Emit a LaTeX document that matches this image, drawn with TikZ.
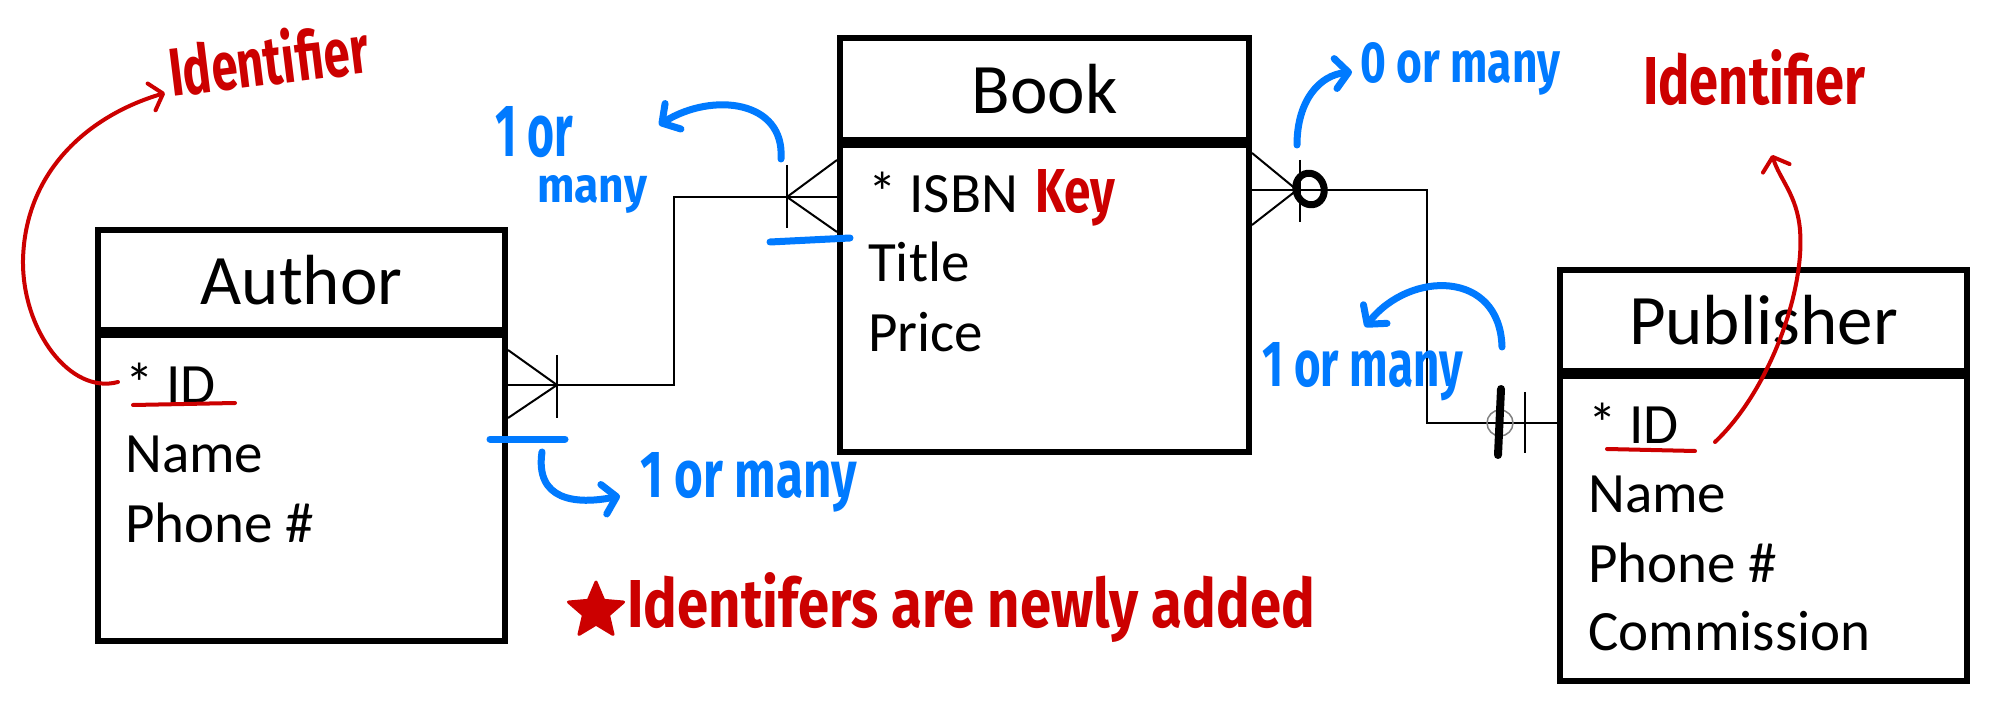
\documentclass[tikz,border=0pt]{standalone}
\usepackage{fontspec}
\usepackage{graphicx}
\setmainfont{Carlito}
\newfontfamily\handfont{Fira Sans}
\usetikzlibrary{arrows.meta,shapes.geometric}
\definecolor{hblue}{RGB}{0,122,255}
\definecolor{hred}{RGB}{204,0,0}
\newcommand\hw[3]{\resizebox{#1}{#2}{\handfont\bfseries #3}}
\begin{document}
\begin{tikzpicture}[x=1pt,y=-1pt,
  box/.style={draw, line width=6pt, rectangle, inner sep=0pt},
  title/.style={font=\fontsize{71}{80}\selectfont},
  attr/.style={anchor=base west, inner sep=0pt, font=\fontsize{57}{64}\selectfont},
  conn/.style={line width=2pt},
  hb/.style={hblue, line width=7pt, line cap=round, line join=round},
  hr/.style={hred, line width=4pt, line cap=round, line join=round},
  hbarrow/.style={hb, -{Straight Barb[length=13pt,width=30pt,round]}},
  hrarrow/.style={hr, -{Straight Barb[length=12pt,width=28pt,round]}},
  hbt/.style={hblue, anchor=base west, inner sep=0pt},
  hrt/.style={hred, anchor=base west, inner sep=0pt},
]
\useasboundingbox[fill=white] (0,0) rectangle (2000,708);

% ---------- entities ----------
\node[box, title, minimum width=407pt, minimum height=100pt] (authhead) at (301.5,280) {Author};
\node[box, minimum width=407pt, minimum height=306pt] (authbody) at (301.5,488) {};
\node[attr] (aid) at (125,403) {* ID};
\node[attr] (aname) at (125,472) {Name};
\node[attr] (aphone) at (125,542) {Phone \#};

\node[box, title, minimum width=409pt, minimum height=102pt] (bookhead) at (1044.5,89) {Book};
\node[box, minimum width=409pt, minimum height=307pt] (bookbody) at (1044.5,298.5) {};
\node[attr] (bisbn) at (868,213) {* ISBN};
\node[attr] (btitle) at (868,282) {Title};
\node[attr] (bprice) at (868,352) {Price};

\node[box, title, minimum width=407pt, minimum height=101pt] (pubhead) at (1763.5,320.5) {Publisher};
\node[box, minimum width=407pt, minimum height=305pt] (pubbody) at (1763.5,528.5) {};
\node[attr] (pid) at (1588,443) {* ID};
\node[attr] (pname) at (1588,512) {Name};
\node[attr] (pphone) at (1588,582) {Phone \#};
\node[attr] (pcomm) at (1588,650) {Commission};

% ---------- connectors ----------
\coordinate (ae) at (authbody.east |- 0,385);
\coordinate (bw) at (bookbody.west |- 0,197);
\coordinate (be) at (bookbody.east |- 0,190);
\coordinate (pw) at (pubbody.west |- 0,423);

\draw[conn] (ae) -- (674,385) -- (674,197) -- (bw);
\draw[conn] ([yshift=35pt]ae) -- ([xshift=49pt]ae) -- ([yshift=-33pt]ae);
\draw[conn] ([xshift=49pt,yshift=30pt]ae) -- ([xshift=49pt,yshift=-33pt]ae);
\draw[conn] ([yshift=37pt]bw) -- ([xshift=-50pt]bw) -- ([yshift=-35pt]bw);
\draw[conn] ([xshift=-50pt,yshift=32pt]bw) -- ([xshift=-50pt,yshift=-31pt]bw);

\draw[conn] (be) -- (1427,190) -- (1427,423) -- (pw);
\draw[conn] ([yshift=37pt]be) -- ([xshift=45pt]be) -- ([yshift=-35pt]be);
\draw[conn] ([xshift=48pt,yshift=30pt]be) -- ([xshift=48pt,yshift=-32pt]be);
\draw[conn] ([xshift=-32pt,yshift=31pt]pw) -- ([xshift=-32pt,yshift=-30pt]pw);
\draw[gray, line width=1.5pt] ([xshift=-57pt]pw) circle[radius=13pt];
\draw[line width=8pt, line cap=round] (1501,389) -- (1498,455);
\draw[line width=7pt, rotate around={20:(1310,189)}] (1310,189) ellipse[x radius=14pt, y radius=16pt];

% ---------- blue annotations ----------
\node[hbt] (t1or) at (495,157) {\hw{78pt}{50pt}{1 or}};
\node[hbt] (t1many) at (537,203) {\hw{110pt}{27pt}{many}};
\draw[hbarrow] (781,159) .. controls (785,100) and (712,92) .. (659,125);
\draw[hb] (770,242) -- (850,238);

\draw[hb] (490,439) -- (565,439);
\draw[hbarrow] (542,452) .. controls (535,500) and (575,505) .. (620,496);
\node[hbt] (t2) at (640,497) {\hw{217pt}{45pt}{1 or many}};

\draw[hbarrow] (1297,145) .. controls (1297,100) and (1320,75) .. (1352,72);
\node[hbt] (t3) at (1360,83) {\hw{200pt}{40pt}{0 or many}};

\draw[hbarrow] (1502,347) .. controls (1500,270) and (1410,270) .. (1365,327);
\node[hbt] (t4) at (1262,387) {\hw{201pt}{44pt}{1 or many}};

% ---------- red annotations ----------
\draw[hr] (133,405) -- (235,403);
\draw[hrarrow] (118,382) .. controls (70,395) and (22,330) .. (23,260)
   .. controls (25,170) and (90,115) .. (165,93);
\node[hrt, rotate=7] (r1) at (172,97) {\hw{200pt}{55pt}{Identifier}};

\draw[hr] (1607,449) -- (1695,451);
\draw[hrarrow] (1715,442) .. controls (1770,390) and (1805,290) .. (1800,230)
   .. controls (1797,195) and (1780,180) .. (1772,155);
\node[hrt] (r2) at (1643,105) {\hw{222pt}{55pt}{Identifier}};

\node[hrt] (rkey) at (1035,213) {\hw{80pt}{43pt}{Key}};

\node[star, star points=5, star point ratio=2.2, minimum size=58pt, inner sep=0pt,
      fill=hred, draw=hred, line width=3pt, line join=round] (rstar) at (596,611) {};
\node[hrt] (rnote) at (627,627) {\hw{688pt}{55pt}{Identifers are newly added}};
\end{tikzpicture}
\end{document}
